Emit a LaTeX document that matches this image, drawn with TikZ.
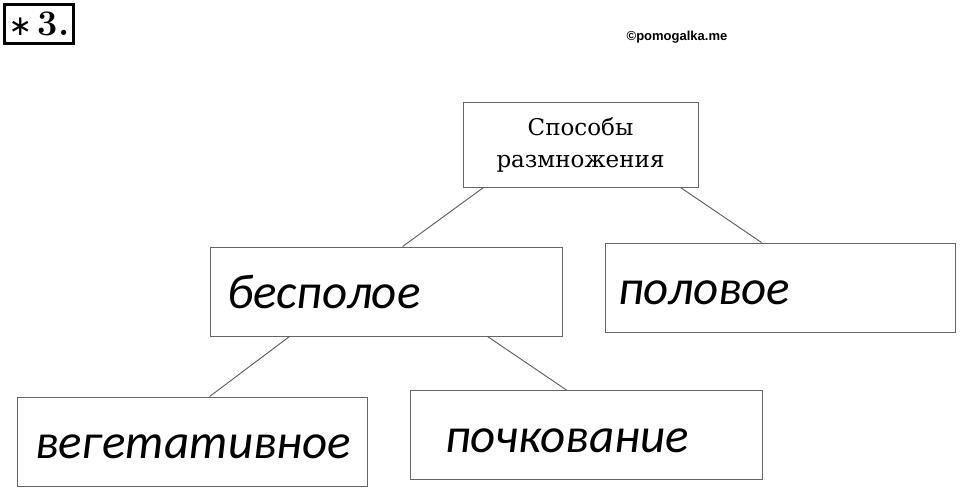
\documentclass[tikz,border=0pt]{standalone}
\usepackage{fontspec}
\newfontfamily\bookfont{DejaVu Serif}
\newfontfamily\handfont{Carlito}
\newfontfamily\markfont{Liberation Sans}
\newfontfamily\symfont{DejaVu Sans}
\begin{document}
\begin{tikzpicture}[x=1pt,y=-1pt,
    frame/.style={draw=black!60,line width=0.9pt,inner ysep=0pt,minimum height=89pt,align=left},
    answer/.style={frame,text height=34pt,text depth=0pt,font=\handfont\itshape\fontsize{49}{52}\selectfont},
    link/.style={draw=black!65,line width=0.9pt}]
    \useasboundingbox (0,0) rectangle (960,490);
    \node[draw,line width=3pt,minimum width=69pt,minimum height=39pt,inner sep=0pt,
      font=\fontsize{36}{36}\selectfont] (num) at (39,24) {{\symfont\fontsize{28}{28}\selectfont ∗}\,\textbf{3.}};
    \node[font=\markfont\bfseries\fontsize{13}{13}\selectfont] (mark) at (677,37) {©pomogalka.me};
    % upper level
    \node[frame,minimum width=235pt,minimum height=85pt,align=center,
      font=\bookfont\fontsize{23}{32}\selectfont] (ways) at (580.5,144.5) {Способы\\размножения};
    \node[answer,inner xsep=17pt,text width=318pt] (asex) at (386,291.5) {бесполое};
    \node[answer,inner xsep=13pt,text width=324pt] (sex) at (780,287.5) {половое};
    % lower level
    \node[answer,inner xsep=18pt,text width=314pt] (veg) at (192,441.5) {вегетативное};
    \node[answer,inner xsep=35pt,text width=282pt] (bud) at (586,435) {почкование};
    \draw[link] ([xshift=21pt]ways.south west) -- ([xshift=193pt]asex.north west);
    \draw[link] ([xshift=-18pt]ways.south east) -- ([xshift=157pt]sex.north west);
    \draw[link] ([xshift=80pt]asex.south west) -- ([xshift=193pt]veg.north west);
    \draw[link] ([xshift=-75pt]asex.south east) -- ([xshift=157pt]bud.north west);
\end{tikzpicture}
\end{document}
